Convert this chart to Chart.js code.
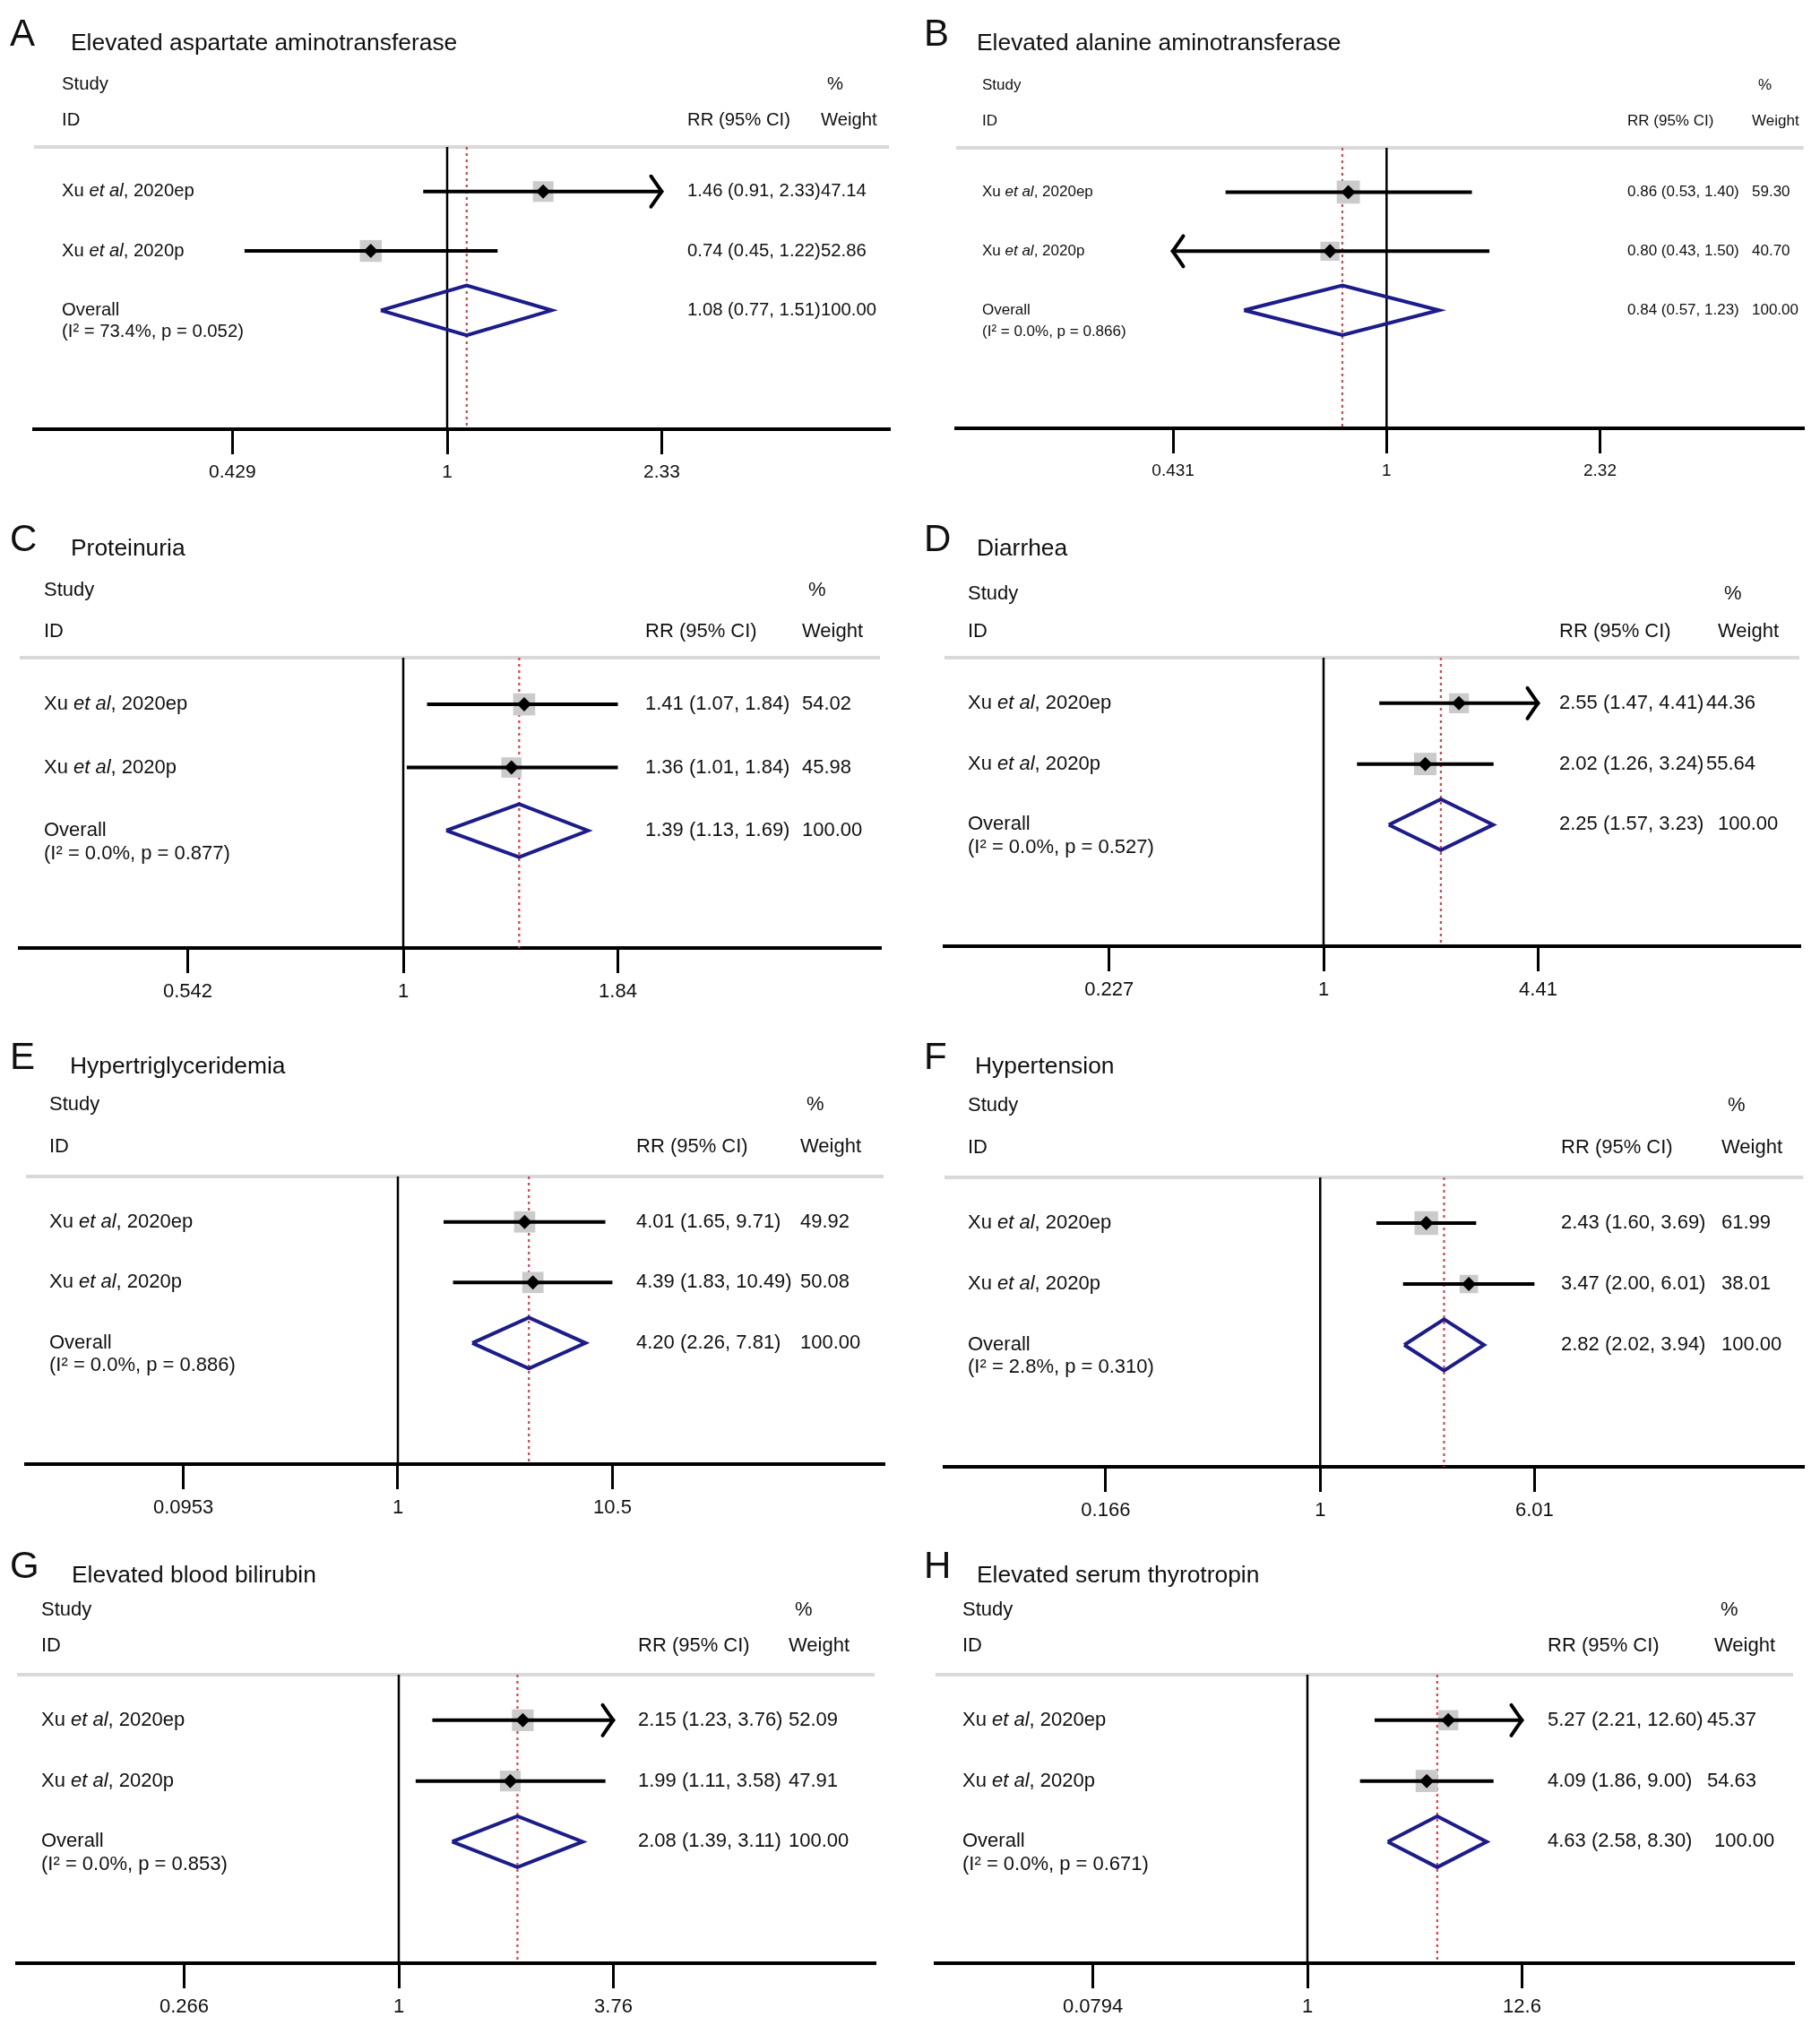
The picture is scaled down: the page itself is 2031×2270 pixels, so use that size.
<!DOCTYPE html>
<html>
<head>
<meta charset="utf-8">
<script src="https://cdn.jsdelivr.net/npm/chart.js@4.4.1/dist/chart.umd.min.js"></script>
<style>
  html, body { margin: 0; padding: 0; background: #fff; }
  #page { position: relative; width: 2031px; height: 2270px; overflow: hidden; }
  .panel { position: absolute; }
</style>
</head>
<body>
<div id="page"></div>
<script>
// ====== data ======
const panelLetters = ["A", "B", "C", "D", "E", "F", "G", "H"];
const panelTitles = [
  "Elevated aspartate aminotransferase",
  "Elevated alanine aminotransferase",
  "Proteinuria",
  "Diarrhea",
  "Hypertriglyceridemia",
  "Hypertension",
  "Elevated blood bilirubin",
  "Elevated serum thyrotropin",
];
const studySuffix = ["2020ep", "2020p"];

// study "ep"
const rrEp = [1.46, 0.86, 1.41, 2.55, 4.01, 2.43, 2.15, 5.27];
const loEp = [0.91, 0.53, 1.07, 1.47, 1.65, 1.60, 1.23, 2.21];
const hiEp = [2.33, 1.40, 1.84, 4.41, 9.71, 3.69, 3.76, 12.60];
const wEp = [47.14, 59.30, 54.02, 44.36, 49.92, 61.99, 52.09, 45.37];
// study "p"
const rrP = [0.74, 0.80, 1.36, 2.02, 4.39, 3.47, 1.99, 4.09];
const loP = [0.45, 0.43, 1.01, 1.26, 1.83, 2.00, 1.11, 1.86];
const hiP = [1.22, 1.50, 1.84, 3.24, 10.49, 6.01, 3.58, 9.00];
const wP = [52.86, 40.70, 45.98, 55.64, 50.08, 38.01, 47.91, 54.63];
// overall
const rrAll = [1.08, 0.84, 1.39, 2.25, 4.20, 2.82, 2.08, 4.63];
const loAll = [0.77, 0.57, 1.13, 1.57, 2.26, 2.02, 1.39, 2.58];
const hiAll = [1.51, 1.23, 1.69, 3.23, 7.81, 3.94, 3.11, 8.30];
const iSquared = [73.4, 0.0, 0.0, 0.0, 0.0, 2.8, 0.0, 0.0];
const pHet = [0.052, 0.866, 0.877, 0.527, 0.886, 0.310, 0.853, 0.671];

// x axis ticks
const tickVals = [
  [0.429, 1, 2.33], [0.431, 1, 2.32], [0.542, 1, 1.84], [0.227, 1, 4.41],
  [0.0953, 1, 10.5], [0.166, 1, 6.01], [0.266, 1, 3.76], [0.0794, 1, 12.6],
];
const tickLabels = [
  ["0.429", "1", "2.33"], ["0.431", "1", "2.32"], ["0.542", "1", "1.84"], ["0.227", "1", "4.41"],
  ["0.0953", "1", "10.5"], ["0.166", "1", "6.01"], ["0.266", "1", "3.76"], ["0.0794", "1", "12.6"],
];

// CI lines that run off the plotted range
const arrowEp = ["right", null, null, "right", null, null, "right", "right"];
const arrowP = [null, "left", null, null, null, null, null, null];

// ====== layout (px, relative to each panel) ======
const panelLeft = [0, 1015, 0, 1015, 0, 1015, 0, 1015];
const panelTop = [0, 0, 560, 560, 1140, 1140, 1710, 1710];
const panelW = [1015, 1016, 1015, 1016, 1015, 1016, 1015, 1016];
const panelH = [560, 560, 580, 580, 570, 570, 560, 560];
const axisLeft = [38, 52, 22, 39, 29, 39, 19, 29];
const axisRight = [992, 1003, 982, 993, 986, 999, 976, 986];
const onePx = [499, 535, 450, 462, 444, 459, 445, 444];
const sepY = [164, 165, 174, 174, 173, 174, 159, 159];
const axisY = [479, 478, 498, 496, 494, 497, 481, 481];
const rowMin = [0.25, 0.25, 0.26, 0.25, 0.25, 0.25, 0.25, 0.25];
const rowMax = [5, 5, 4.86, 5, 5, 5, 5, 5];
const studyRow = [-0.8, -0.8, -0.8, -0.8, -0.93, -0.93, -0.82, -0.82];
const idRow = [-0.2, -0.2, -0.15, -0.18, -0.24, -0.24, -0.22, -0.22];
const letterX = [11, 16, 11, 16, 11, 16, 11, 16];
const titleX = [79, 75, 79, 75, 78, 73, 80, 75];
const headBase = [54, 54, 58, 58, 56, 56, 54, 54];
const studyX = [69, 81, 49, 65, 55, 65, 46, 59];
const rrX = [767, 801, 720, 725, 710, 727, 712, 712];
const wtX = [916, 940, 895, 902, 893, 906, 880, 898];
const wtRowShift = [0, 0, 0, -13, 0, 0, 0, -8];
const fontPx = [20.3, 17, 22, 22, 22, 22, 22, 22];
const tickFontPx = [21, 19, 22, 22, 22, 22, 22, 22];

const TICK_SPAN = 239.5; // px between tick "1" and the outer ticks
const DIAMOND_HALF = 0.42; // row units
const FAM = '"Liberation Sans", Arial, Helvetica, sans-serif';
const lg = Math.log10;
const page = document.getElementById("page");

function fmtCI(rr, lo, hi) {
  return `${rr.toFixed(2)} (${lo.toFixed(2)}, ${hi.toFixed(2)})`;
}

function drawArrow(ctx, x, y, dir) {
  const dx = dir === "right" ? -12 : 12;
  ctx.beginPath();
  ctx.moveTo(x + dx, y - 17);
  ctx.quadraticCurveTo(x + dx * 0.2, y - 3, x, y);
  ctx.quadraticCurveTo(x + dx * 0.2, y + 3, x + dx, y + 17);
  ctx.stroke();
}

function drawStudyName(ctx, suffix, x, y, f) {
  ctx.font = `${f}px ${FAM}`;
  ctx.fillText("Xu ", x, y);
  let w = ctx.measureText("Xu ").width;
  ctx.font = `italic ${f}px ${FAM}`;
  ctx.fillText("et al", x + w, y);
  w += ctx.measureText("et al").width;
  ctx.font = `${f}px ${FAM}`;
  ctx.fillText(", " + suffix, x + w, y);
}

function forestPlugin(i) {
  return {
    id: "forest" + i,
    beforeDatasetsDraw(chart) {
      const { ctx, chartArea } = chart;
      ctx.save();
      ctx.strokeStyle = "#d9d9d9";
      ctx.lineWidth = 4;
      ctx.beginPath();
      ctx.moveTo(chartArea.left, chartArea.top);
      ctx.lineTo(chartArea.right, chartArea.top);
      ctx.stroke();
      ctx.restore();
    },
    afterDatasetsDraw(chart) {
      const ctx = chart.ctx;
      const xs = chart.scales.x;
      const ys = chart.scales.y;
      ctx.save();

      // arrow heads
      ctx.strokeStyle = "#000";
      ctx.lineWidth = 4;
      ctx.lineCap = "round";
      if (arrowEp[i]) {
        const v = arrowEp[i] === "right" ? hiEp[i] : loEp[i];
        drawArrow(ctx, xs.getPixelForValue(lg(v)), ys.getPixelForValue(1), arrowEp[i]);
      }
      if (arrowP[i]) {
        const v = arrowP[i] === "right" ? hiP[i] : loP[i];
        drawArrow(ctx, xs.getPixelForValue(lg(v)), ys.getPixelForValue(2), arrowP[i]);
      }

      // texts
      const f = fontPx[i];
      ctx.fillStyle = "#111";
      ctx.textAlign = "left";
      ctx.textBaseline = "alphabetic";
      ctx.font = `42px ${FAM}`;
      ctx.fillText(panelLetters[i], letterX[i], headBase[i] - 3);
      ctx.font = `26.4px ${FAM}`;
      ctx.fillText(panelTitles[i], titleX[i], headBase[i] + 2);

      ctx.textBaseline = "middle";
      ctx.font = `${f}px ${FAM}`;
      const yStudy = ys.getPixelForValue(studyRow[i]);
      const yId = ys.getPixelForValue(idRow[i]);
      ctx.fillText("Study", studyX[i], yStudy);
      ctx.fillText("ID", studyX[i], yId);
      ctx.fillText("RR (95% CI)", rrX[i], yId);
      ctx.fillText("%", wtX[i] + 7, yStudy);
      ctx.fillText("Weight", wtX[i], yId);

      const y1 = ys.getPixelForValue(1);
      const y2 = ys.getPixelForValue(2);
      const y3 = ys.getPixelForValue(3);
      drawStudyName(ctx, studySuffix[0], studyX[i], y1, f);
      drawStudyName(ctx, studySuffix[1], studyX[i], y2, f);
      ctx.font = `${f}px ${FAM}`;
      ctx.fillText("Overall", studyX[i], y3);
      ctx.fillText(`(I\u00b2 = ${iSquared[i].toFixed(1)}%, p = ${pHet[i].toFixed(3)})`,
        studyX[i], ys.getPixelForValue(3.37));

      ctx.fillText(fmtCI(rrEp[i], loEp[i], hiEp[i]), rrX[i], y1);
      ctx.fillText(fmtCI(rrP[i], loP[i], hiP[i]), rrX[i], y2);
      ctx.fillText(fmtCI(rrAll[i], loAll[i], hiAll[i]), rrX[i], y3);
      ctx.fillText(wEp[i].toFixed(2), wtX[i] + wtRowShift[i], y1);
      ctx.fillText(wP[i].toFixed(2), wtX[i] + wtRowShift[i], y2);
      ctx.fillText((100).toFixed(2), wtX[i], y3);
      ctx.restore();
    },
  };
}

function makePanel(i) {
  const box = document.createElement("div");
  box.className = "panel";
  box.style.left = panelLeft[i] + "px";
  box.style.top = panelTop[i] + "px";
  const canvas = document.createElement("canvas");
  canvas.width = panelW[i];
  canvas.height = panelH[i];
  canvas.style.width = panelW[i] + "px";
  canvas.style.height = panelH[i] + "px";
  box.appendChild(canvas);
  page.appendChild(box);

  // x runs on log10(RR); ticks sit TICK_SPAN px either side of RR = 1
  const lx = lg(tickVals[i][2]);
  const xMin = -((onePx[i] - axisLeft[i]) / TICK_SPAN) * lx;
  const xMax = ((axisRight[i] - onePx[i]) / TICK_SPAN) * lx;
  const sq = (w) => (3.35 * Math.sqrt(w)) / Math.SQRT2;
  const yTop = rowMin[i];
  const yBot = rowMax[i];

  new Chart(canvas.getContext("2d"), {
    type: "scatter",
    data: {
      datasets: [
        { // black diamond markers
          data: [{ x: lg(rrEp[i]), y: 1 }, { x: lg(rrP[i]), y: 2 }],
          pointStyle: "rectRot", pointRadius: 8,
          pointBackgroundColor: "#000", pointBorderWidth: 0, order: 0,
        },
        { // overall diamond
          data: [
            { x: lg(loAll[i]), y: 3 }, { x: lg(rrAll[i]), y: 3 - DIAMOND_HALF },
            { x: lg(hiAll[i]), y: 3 }, { x: lg(rrAll[i]), y: 3 + DIAMOND_HALF },
            { x: lg(loAll[i]), y: 3 },
          ],
          showLine: true, borderColor: "#1c1c8a", borderWidth: 4,
          borderJoinStyle: "miter", pointRadius: 0, fill: false, order: 1,
        },
        { // CI ep
          data: [{ x: lg(loEp[i]), y: 1 }, { x: lg(hiEp[i]), y: 1 }],
          showLine: true, borderColor: "#000", borderWidth: 4, pointRadius: 0, order: 2,
        },
        { // CI p
          data: [{ x: lg(loP[i]), y: 2 }, { x: lg(hiP[i]), y: 2 }],
          showLine: true, borderColor: "#000", borderWidth: 4, pointRadius: 0, order: 2,
        },
        { // weight boxes
          data: [{ x: lg(rrEp[i]), y: 1 }, { x: lg(rrP[i]), y: 2 }],
          pointStyle: "rect", pointRadius: [sq(wEp[i]), sq(wP[i])],
          pointBackgroundColor: "#cbcbcb", pointBorderWidth: 0, order: 3,
        },
        { // overall effect line
          data: [{ x: lg(rrAll[i]), y: yTop }, { x: lg(rrAll[i]), y: yBot }],
          showLine: true, borderColor: "#d8434f", borderWidth: 2.2,
          borderDash: [3, 4], pointRadius: 0, order: 4,
        },
        { // no-effect line
          data: [{ x: 0, y: yTop }, { x: 0, y: yBot }],
          showLine: true, borderColor: "#000", borderWidth: 2.5, pointRadius: 0, order: 5,
        },
      ],
    },
    options: {
      responsive: false,
      animation: false,
      devicePixelRatio: 1,
      events: [],
      layout: {
        padding: {
          left: axisLeft[i],
          right: panelW[i] - axisRight[i],
          top: sepY[i],
          bottom: panelH[i] - axisY[i] - 70,
        },
      },
      plugins: { legend: { display: false }, tooltip: { enabled: false } },
      scales: {
        x: {
          type: "linear",
          bounds: "data",
          min: xMin,
          max: xMax,
          afterBuildTicks: (s) => { s.ticks = tickVals[i].map((v) => ({ value: lg(v) })); },
          afterFit: (s) => { s.height = 70; },
          ticks: {
            callback: (v, k) => tickLabels[i][k],
            font: { family: FAM, size: tickFontPx[i] },
            color: "#111",
            padding: 8,
            maxRotation: 0,
            autoSkip: false,
          },
          grid: { drawOnChartArea: false, drawTicks: true, tickLength: 28, lineWidth: 3, color: "#000" },
          border: { display: true, width: 4, color: "#000" },
        },
        y: { type: "linear", reverse: true, bounds: "data", min: yTop, max: yBot, display: false },
      },
    },
    plugins: [forestPlugin(i)],
  });
}

for (let i = 0; i < panelLetters.length; i++) makePanel(i);
</script>
</body>
</html>
